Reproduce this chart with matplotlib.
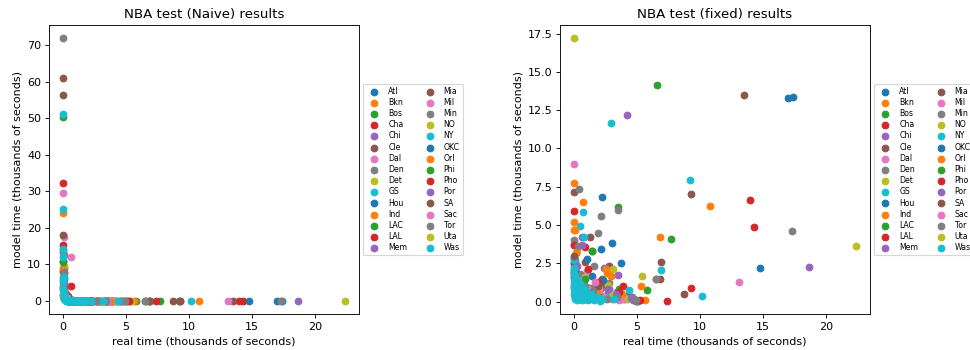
import numpy as np
import matplotlib
matplotlib.use("Agg")
import matplotlib.pyplot as plt

teams = ['Atl', 'Bkn', 'Bos', 'Cha', 'Chi', 'Cle', 'Dal', 'Den', 'Det', 'GS',
         'Hou', 'Ind', 'LAC', 'LAL', 'Mem', 'Mia', 'Mil', 'Min', 'NO', 'NY',
         'OKC', 'Orl', 'Phi', 'Pho', 'Por', 'SA', 'Sac', 'Tor', 'Uta', 'Was']

# real game time per team (thousands of seconds)
real = [
    [17.0, 0.05, 0.4, 1.2, 2.2, 0.8, 0.1, 1.6, 0.02, 0.6, 3.4, 4.0],      # Atl
    [10.8, 0.0, 0.7, 2.9, 0.02, 0.3, 1.1, 0.05, 4.8],                     # Bkn
    [6.6, 0.03, 1.4, 0.5, 0.1, 2.2, 0.9, 5.8, 0.02, 3.6, 4.5],            # Bos
    [14.0, 0.01, 0.9, 2.2, 0.3, 0.04, 1.7, 0.6],                          # Cha
    [18.7, 0.0, 3.5, 0.6, 0.2, 1.3, 0.03, 2.1, 4.7, 1.0],                 # Chi
    [13.5, 0.01, 0.9, 2.8, 0.4, 0.03, 1.5, 3.3, 2.1, 5.0],                # Cle
    [13.1, 0.02, 1.0, 0.3, 0.05, 2.4, 0.6],                               # Dal
    [0.02, 0.4, 2.1, 1.9, 1.6, 0.7, 0.1, 1.0, 3.3, 2.7, 0.5],             # Den
    [0.0, 0.2, 3.1, 0.5, 0.05, 1.2, 2.0, 3.8, 0.9],                       # Det
    [9.2, 0.02, 0.7, 0.1, 1.2, 0.4, 0.03, 0.8, 2.7, 1.6],                 # GS
    [17.4, 3.0, 2.1, 0.03, 0.5, 1.0, 4.2],                                # Hou
    [6.8, 5.3, 0.02, 2.6, 0.4, 0.06, 1.3, 4.0, 5.6],                      # Ind
    [7.7, 3.5, 4.9, 0.02, 0.3, 1.8],                                      # LAC
    [14.3, 9.3, 3.9, 0.02, 0.5, 1.1, 0.08],                               # LAL
    [4.2, 2.4, 2.8, 0.4, 0.03, 1.6],                                      # Mem
    [9.3, 6.9, 0.03, 0.8, 1.3, 0.2],                                      # Mia
    [0.03, 1.4, 0.5, 0.1, 3.0, 2.0, 4.1, 0.8],                            # Mil
    [17.3, 3.5, 6.5, 5.1, 0.05, 1.4, 2.8, 4.6, 0.3],                      # Min
    [5.4, 0.04, 0.7, 1.5, 0.3, 3.1, 4.3, 2.7],                            # NO
    [10.2, 2.95, 6.9, 0.01, 0.45, 0.03],                                  # NY
    [14.8, 3.7, 2.3, 1.4, 0.05, 0.6],                                     # OKC
    [0.05, 2.9, 1.9, 0.3, 2.5, 3.8, 0.15],                                # Orl
    [1.4, 0.06, 2.0, 0.9],                                                # Phi
    [7.4, 0.04, 2.3, 0.7, 3.6, 1.9, 5.2],                                 # Pho
    [4.5, 0.6, 0.04, 1.7, 3.3, 2.7, 0.25],                                # Por
    [8.7, 6.8, 0.02, 1.9],                                                # SA
    [0.03, 2.4, 1.1, 0.2, 1.7, 3.6, 0.35],                                # Sac
    [6.5, 0.9, 0.04, 2.6, 4.9, 1.5, 3.4],                                 # Tor
    [22.4, 0.03, 0.5],                                                    # Uta
    [0.01, 0.03, 0.05, 0.02, 0.04, 0.06, 0.08, 0.11, 0.14, 0.18,
     0.22, 0.27, 0.31, 0.36, 0.42, 0.47, 0.53, 0.58, 0.64, 0.71,
     0.77, 0.83, 0.9, 0.97, 1.05, 1.12, 1.21, 1.33, 1.46, 1.62,
     1.8, 2.05, 0.02, 0.07, 0.13, 0.24, 0.39, 0.6, 0.88, 4.4,
     0.75, 2.2, 3.2, 0.5, 0.03],                                          # Was
]

# naive model prediction
naive = [
    [0, 9.0, 0.3, 0, 0, 0.1, 2.5, 0, 4.2, 0, 0, 0],
    [0, 24.0, 0, 0, 6.0, 0.5, 0, 3.0, 0],
    [0, 50.5, 0, 0.2, 4.0, 0, 0, 0, 1.5, 0, 0],
    [0, 32.4, 0, 0, 0.8, 7.5, 0, 4.0],
    [0, 13.5, 0, 0, 2.0, 0, 8.0, 0, 0, 0],
    [0, 61.0, 0, 0, 1.2, 8.5, 0, 0, 0, 0],
    [0, 29.5, 0, 0.6, 17.4, 0, 12.0],
    [72.0, 0, 0, 0, 0, 0.2, 3.0, 0, 0, 0, 0],
    [5.0, 2.0, 0, 0, 9.5, 0, 0, 0, 0],
    [0, 51.3, 0, 2.0, 0, 0.4, 6.5, 0, 0, 0],
    [0, 0, 0, 11.0, 0.5, 0, 0],
    [0, 0, 9.0, 0, 0, 2.4, 0, 0, 0],
    [0, 0, 0, 10.7, 1.0, 0],
    [0, 0, 0, 15.2, 0.3, 0, 4.5],
    [0, 0, 0, 0, 14.0, 0],
    [0, 0, 56.3, 0, 0, 1.8],
    [3.5, 0, 0, 1.2, 0, 0, 0, 0],
    [0, 0, 0, 0, 8.0, 0, 0, 0, 0.4],
    [0, 4.2, 0, 0, 0.7, 0, 0, 0],
    [0, 0, 0, 25.2, 0, 1.5],
    [0, 0, 0, 0, 6.0, 0],
    [3.0, 0, 0, 0.6, 0, 0, 1.2],
    [0, 2.5, 0, 0],
    [0, 3.8, 0, 0, 0, 0, 0],
    [0, 0, 5.0, 0, 0, 0, 0.9],
    [0, 0, 18.1, 0],
    [2.0, 0, 0, 1.0, 0, 0, 0.3],
    [0, 0, 12.5, 0, 0, 0, 0],
    [0, 1.0, 0],
    [14.2, 12.0, 6.6, 3.6, 2.4, 1.6, 1.0, 0.6, 0.4, 0.2,
     0.1, 0, 0, 0, 0, 0, 0, 0, 0, 0,
     0, 0, 0, 0, 0, 0, 0, 0, 0, 0,
     0, 0, 2.9, 0.8, 0.3, 0.1, 0, 0, 0, 0,
     0, 0, 0, 0, 5.5],
]

# fixed model prediction
fixed = [
    [13.3, 2.6, 0.5, 0.9, 6.85, 0.3, 1.1, 0.6, 1.9, 0.2, 0.6, 0.2],
    [6.25, 7.75, 6.5, 1.7, 4.7, 0.4, 0.8, 1.3, 0.2],
    [14.15, 1.6, 3.3, 0.7, 0.5, 1.5, 0.4, 0.75, 2.9, 0.8, 0.3],
    [6.65, 5.9, 3.55, 1.4, 0.9, 2.4, 0.5, 1.2],
    [2.25, 2.1, 1.75, 4.2, 0.6, 0.3, 3.7, 0.9, 0.1, 1.9],
    [13.5, 7.15, 2.6, 2.3, 0.8, 1.7, 0.6, 0.4, 1.1, 0.05],
    [1.25, 9.0, 2.0, 0.5, 1.8, 0.3, 0.9],
    [4.0, 7.35, 5.6, 4.5, 2.3, 1.0, 2.1, 0.4, 0.3, 0.6, 1.8],
    [17.2, 3.3, 2.1, 0.6, 1.4, 0.3, 0.9, 0.2, 1.6],
    [7.95, 2.3, 5.85, 0.8, 0.6, 0.3, 1.5, 0.2, 0.3, 0.9],
    [13.35, 3.8, 3.45, 1.0, 0.7, 2.8, 0.4],
    [4.25, 1.0, 5.2, 1.9, 0.5, 0.8, 0.9, 0.3, 0.1],
    [4.1, 6.15, 0.05, 2.0, 0.4, 0.9],
    [4.9, 0.9, 1.0, 3.7, 0.6, 2.1, 0.3],
    [12.15, 2.2, 0.85, 1.2, 2.5, 0.4],
    [7.0, 2.6, 2.5, 1.4, 4.2, 0.6],
    [1.1, 0.7, 1.3, 0.4, 0.2, 0.6, 0.2, 1.5],
    [4.6, 6.0, 1.5, 0.05, 2.7, 0.9, 1.2, 0.3, 3.6],
    [1.65, 1.9, 0.8, 0.3, 1.0, 0.5, 0.2, 1.1],
    [0.4, 11.65, 2.05, 2.7, 4.95, 2.8],
    [2.2, 2.5, 1.4, 1.7, 2.0, 0.5],
    [4.7, 1.7, 0.5, 1.1, 2.1, 0.5, 3.2],
    [3.3, 1.2, 0.2, 1.5],
    [0.05, 1.6, 0.3, 0.9, 0.6, 1.3, 0.1],
    [0.25, 3.7, 1.4, 0.3, 0.5, 0.8, 2.3],
    [0.5, 1.5, 3.0, 1.0],
    [1.8, 0.3, 0.8, 0.5, 1.3, 0.1, 0.7],
    [1.5, 1.0, 0.6, 0.2, 0.1, 0.7, 0.3],
    [3.65, 0.8, 0.4],
    [0.9, 0.5, 0.3, 1.3, 0.7, 0.2, 1.0, 0.6, 0.4, 0.8,
     0.1, 0.5, 0.9, 0.3, 0.6, 0.2, 0.7, 0.4, 0.1, 0.5,
     0.3, 0.8, 0.2, 0.6, 0.4, 0.1, 0.3, 0.5, 0.2, 0.1,
     0.3, 0.05, 2.2, 1.6, 1.1, 1.4, 1.0, 0.9, 0.6, 0.75,
     4.2, 0.2, 0.15, 1.2, 1.9],
]

DPI = 80
fig = plt.figure(figsize=(970 / DPI, 350 / DPI), dpi=DPI)
ax1 = fig.add_axes([49 / 970, 36 / 350, 310 / 970, 289 / 350])
ax2 = fig.add_axes([560 / 970, 36 / 350, 310 / 970, 289 / 350])

for ax, model, name in [(ax1, naive, 'Naive'), (ax2, fixed, 'fixed')]:
    for i, t in enumerate(teams):
        ax.scatter(real[i], model[i], label=t)
    ax.set_title('NBA test (%s) results' % name)
    ax.set_xlabel('real time (thousands of seconds)')
    ax.set_ylabel('model time (thousands of seconds)')
    # legend is allowed to run past the right edge, like the original
    ax.legend(loc='center left', bbox_to_anchor=(1.0, 0.5), ncol=2,
              fontsize=7, scatterpoints=1, labelspacing=0.28,
              columnspacing=1.9, borderaxespad=0.55)

ax1.set_xticks([0, 5, 10, 15, 20])
ax2.set_xticks([0, 5, 10, 15, 20])

fig.savefig('out.png', dpi=DPI)
